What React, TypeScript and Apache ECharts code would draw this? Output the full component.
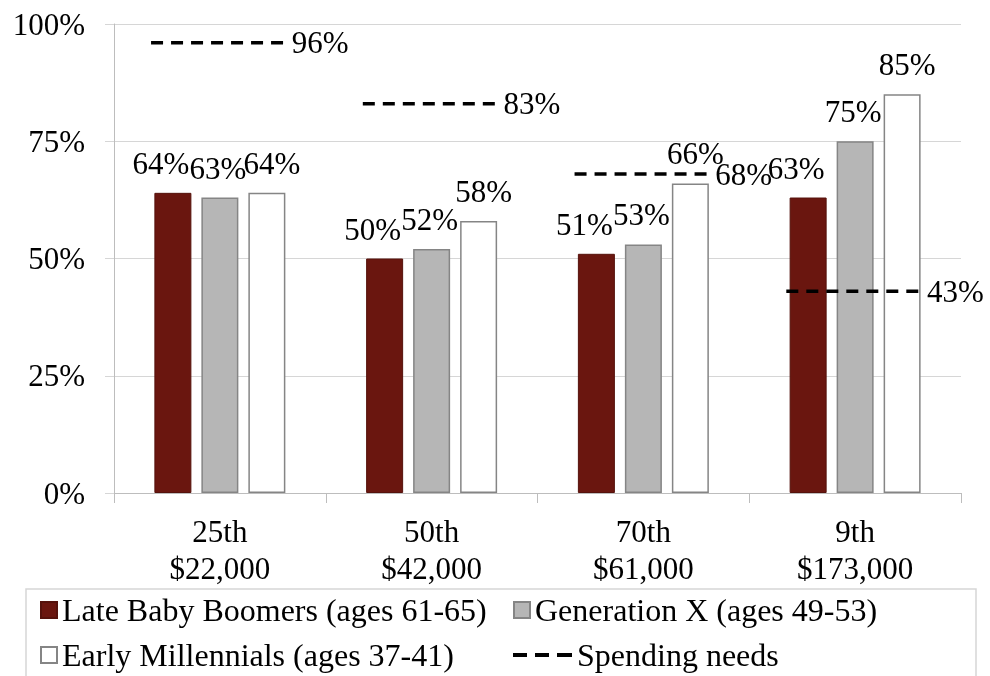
import React, { useEffect, useRef } from "react";
import * as echarts from "echarts";

const categories = ["25th\n$22,000", "50th\n$42,000", "70th\n$61,000", "9th\n$173,000"];
const boomers = [64, 50, 51, 63];
const genX = [63, 52, 53, 75];
const millennials = [64, 58, 66, 85];
const spending = [96, 83, 68, 43];

const seriesNames = [
  "Late Baby Boomers (ages 61-65)",
  "Generation X (ages 49-53)",
  "Early Millennials (ages 37-41)",
  "Spending needs",
];

const FONT = "'Liberation Serif', 'Times New Roman', serif";

export default function App() {
  const ref = useRef<HTMLDivElement>(null);
  useEffect(() => {
    if (!ref.current) return;
    const chart = echarts.init(ref.current, undefined, { renderer: "svg" });
    const labelBase = {
      show: true,
      position: "top",
      distance: 14,
      fontSize: 31,
      fontFamily: FONT,
      color: "#000",
      formatter: "{c}%",
    };
    const legendBase = {
      padding: 0,
      itemWidth: 16,
      itemHeight: 16,
      textStyle: { fontSize: 32, fontFamily: FONT, color: "#000" },
      selectedMode: false,
    };
    chart.setOption({
      animation: false,
      grid: { left: 114, right: 29, top: 24, bottom: 183, containLabel: false },
      xAxis: {
        type: "category",
        data: categories,
        axisLine: { lineStyle: { color: "#bdbdbd", width: 1 } },
        axisTick: { show: true, length: 10, lineStyle: { color: "#bdbdbd" } },
        axisLabel: {
          fontSize: 31,
          fontFamily: FONT,
          color: "#000",
          lineHeight: 37,
          margin: 20,
          interval: 0,
        },
      },
      yAxis: {
        type: "value",
        min: 0,
        max: 100,
        interval: 25,
        axisLine: { show: true, lineStyle: { color: "#bdbdbd" } },
        axisTick: { show: true, length: 9, lineStyle: { color: "#d6d6d6" } },
        splitLine: { lineStyle: { color: "#d6d6d6" } },
        axisLabel: {
          fontSize: 31,
          fontFamily: FONT,
          color: "#000",
          margin: 29,
          formatter: "{value}%",
        },
      },
      legend: [
        { ...legendBase, left: 40, top: 594, data: [{ name: seriesNames[0], icon: "rect" }] },
        { ...legendBase, left: 513, top: 594, data: [{ name: seriesNames[1], icon: "rect" }] },
        { ...legendBase, left: 40, top: 639, data: [{ name: seriesNames[2], icon: "rect" }] },
        {
          ...legendBase,
          left: 513,
          top: 639,
          itemWidth: 59,
          itemHeight: 4,
          data: [
            {
              name: seriesNames[3],
              icon: "path://M0,0h14v4h-14z M22,0h14v4h-14z M44,0h15v4h-15z",
            },
          ],
        },
      ],
      graphic: [
        {
          type: "rect",
          shape: { x: 26, y: 589, width: 950, height: 120 },
          style: { fill: "none", stroke: "#d6d6d6", lineWidth: 1.5 },
          z: -1,
        },
      ],
      series: [
        {
          name: seriesNames[0],
          type: "bar",
          data: boomers,
          barWidth: 37,
          barGap: "27%",
          itemStyle: { color: "#6a160f", borderColor: "#55120c", borderWidth: 1 },
          label: { ...labelBase, offset: [-12, 0] },
        },
        {
          name: seriesNames[1],
          type: "bar",
          data: genX,
          barWidth: 37,
          barGap: "27%",
          itemStyle: { color: "#b6b6b6", borderColor: "#858585", borderWidth: 1.5 },
          label: { ...labelBase, offset: [-2, 0] },
        },
        {
          name: seriesNames[2],
          type: "bar",
          data: millennials,
          barWidth: 37,
          barGap: "27%",
          itemStyle: { color: "#ffffff", borderColor: "#858585", borderWidth: 1.5 },
          label: { ...labelBase, offset: [5, 0] },
        },
        {
          name: seriesNames[3],
          type: "custom",
          z: 10,
          itemStyle: { color: "#000" },
          encode: { x: 0, y: 1 },
          data: spending.map((v, i) => [i, v]),
          renderItem: (params: any, api: any) => {
            const idx = api.value(0);
            const val = api.value(1);
            const p = api.coord([idx, val]);
            const w = api.size([1, 0])[0];
            const x1 = p[0] - 0.325 * w;
            const x2 = p[0] + 0.325 * w;
            return {
              type: "group",
              children: [
                {
                  type: "line",
                  shape: { x1, y1: p[1], x2, y2: p[1] },
                  style: { stroke: "#000", lineWidth: 3.5, lineDash: [12, 8] },
                },
                {
                  type: "text",
                  style: {
                    text: val + "%",
                    x: x2 + 3,
                    y: p[1],
                    verticalAlign: "middle",
                    align: "left",
                    fontSize: 31,
                    fontFamily: FONT,
                    fill: "#000",
                  },
                },
              ],
            };
          },
        },
      ],
    });
    return () => chart.dispose();
  }, []);
  return <div ref={ref} style={{ width: 990, height: 676, position: "fixed", left: 0, top: 0 }} />;
}
